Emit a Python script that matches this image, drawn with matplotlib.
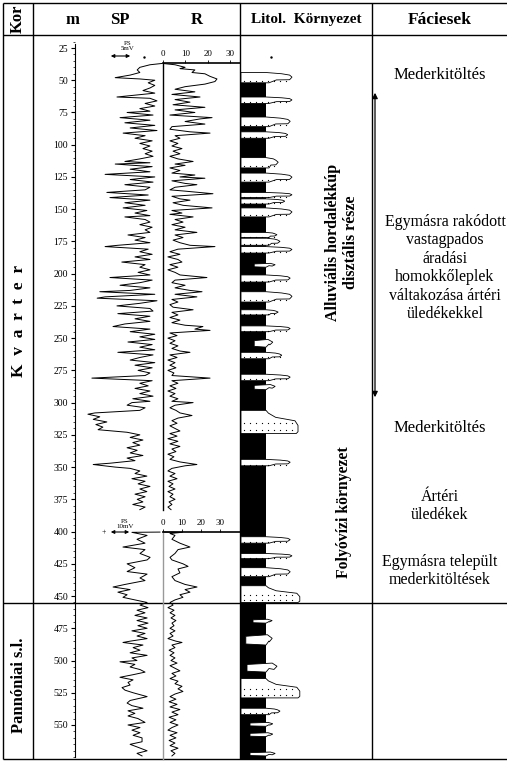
import matplotlib.pyplot as plt
import numpy as np
from matplotlib.ticker import FixedLocator

plt.rcParams['font.family'] = ['Liberation Serif', 'DejaVu Serif']

# ---- log data (depth in m) ----
# upper run, SP in mV (scale 5 mV), R in ohmm
sp_up_depth = [37, 38, 40, 42, 44, 46, 48, 49, 50, 52, 54, 56, 58, 60, 62, 63, 64, 66, 68, 70,
               72, 74, 75, 77, 79, 81, 83, 85, 87, 89, 91, 93, 95, 97, 99, 101, 103, 105, 107, 109,
               111, 113, 114, 115, 117, 119, 121, 123, 125, 127, 129, 131, 133, 135, 137, 139, 141, 143, 145, 147,
               149, 151, 153, 155, 156, 158, 160, 162, 164, 166, 168, 170, 172, 174, 176, 178, 179, 181, 183, 185,
               187, 189, 191, 193, 195, 197, 199, 201, 203, 205, 207, 209, 211, 213, 214, 216, 218, 219, 221, 223,
               225, 227, 229, 231, 233, 235, 237, 239, 241, 243, 245, 247, 249, 251, 253, 255, 257, 259, 261, 263,
               265, 267, 269, 271, 273, 275, 277, 279, 281, 283, 285, 287, 289, 291, 293, 295, 297, 299, 300, 302,
               304, 306, 308, 309, 311, 313, 315, 317, 319, 321, 323, 325, 327, 329, 331, 333, 335, 337, 339, 341,
               343, 345, 347, 348, 350, 351, 353, 355, 357, 359, 361, 363, 365, 367, 369, 371, 373, 375, 377, 379,
               381, 383]
sp_up = [1.1, -1.6, -3.9, -4.5, -3.9, -6.1, -9.5, -3.9, -0.5, -2.0, -0.5, -1.6, -3.2, -0.5, -6.1, -9.1, -1.6, 0.0, -2.7, -0.5,
         -3.9, -1.6, -6.8, -0.9, -8.4, -1.6, -7.3, -0.5, -6.1, 0.0, -7.7, -2.7, -5.0, -1.1, -3.9, -1.6, -3.2, -1.1, -2.7, -0.9,
         -3.9, -7.3, -1.6, -9.5, -1.1, -6.1, -1.6, -11.8, -0.5, -6.1, -0.9, -7.3, -1.6, -2.7, -11.4, -2.0, -10.7, -1.6, -7.3, -2.7,
         -7.7, -2.3, -5.0, -1.6, -7.3, -2.7, -1.6, -3.9, -1.1, -2.7, -1.6, -6.6, -2.7, -5.0, -1.6, -8.9, -11.8, -2.0, -3.9, -1.1,
         -5.0, -1.6, -8.0, -2.7, -3.9, -1.6, -4.3, -1.6, -10.7, -1.1, -3.9, -8.4, -1.6, -6.1, -13.0, -0.5, -11.8, -13.6, 0.0, -3.9,
         -9.1, -1.6, -0.9, -8.9, -1.6, -5.0, -1.6, -7.3, -10.0, -1.6, -6.1, -0.5, -3.9, -0.5, -6.6, -1.1, -3.9, -0.5, -8.9, -0.9,
         -3.9, -6.1, -0.5, -5.0, -1.1, -4.3, -1.6, -2.7, -14.8, -1.1, -3.9, -2.0, -5.0, -1.6, -3.9, -0.9, -5.5, -1.6, -5.7, -6.8,
         -2.7, -3.9, -14.1, -15.7, -13.0, -14.5, -11.4, -13.9, -12.3, -13.4, -6.8, -3.9, -6.1, -3.2, -5.5, -3.9, -6.8, -4.5, -6.1, -3.2,
         -6.8, -5.0, -10.7, -14.5, -9.5, -6.1, -3.9, -5.0, -2.3, -5.7, -2.7, -4.3, -1.6, -3.9, -2.3, -5.0, -2.7, -4.5, -3.2, -5.5,
         -2.7, -3.9]

r_up_depth = [37, 38, 40, 41, 42, 44, 45, 47, 49, 51, 53, 55, 57, 59, 61, 63, 65, 67, 69, 71,
              73, 75, 77, 79, 80, 82, 84, 86, 88, 90, 91, 93, 95, 97, 99, 101, 103, 105, 107, 109,
              111, 113, 115, 116, 118, 120, 122, 123.5, 125, 126, 128, 130, 131, 133, 135, 136, 138, 140, 142, 143,
              145, 147, 149, 151, 153, 154, 156, 158, 160, 162, 164, 166, 168, 170, 172, 174, 176, 178, 179, 181,
              183, 185, 187, 189, 191, 193, 195, 197, 199, 201, 203, 205, 207, 209, 211, 213, 214, 216, 218, 220,
              222, 224, 226, 228, 230, 232, 234, 236, 238, 240, 241, 243, 244, 246, 248, 250, 252, 254, 256, 258,
              260, 261, 263, 265, 267, 269, 271, 273, 275, 277, 279, 281, 283, 285, 287, 289, 291, 293, 295, 297,
              299, 300, 302, 304, 306, 308, 310, 312, 314, 316, 318, 320, 322, 324, 326, 328, 330, 332, 334, 336,
              338, 340, 342, 344, 346, 348, 349, 351, 353, 355, 357, 359, 361, 363, 365, 367, 369, 371, 373, 375,
              377, 379, 381, 383]
r_up = [0.0, 5.4, 9.9, 7.6, 14.3, 13.0, 18.8, 21.1, 24.2, 23.3, 18.8, 9.9, 5.4, 14.3, 4.0, 16.6, 5.4, 12.1, 4.5, 18.8,
        5.4, 14.3, 3.1, 22.0, 16.6, 9.9, 18.8, 4.0, 3.1, 12.1, 21.1, 5.4, 7.6, 3.1, 6.7, 4.0, 8.5, 4.5, 7.6, 3.1,
        6.7, 13.5, 5.4, 9.9, 3.1, 7.6, 4.0, 14.3, 7.6, 18.8, 4.0, 9.9, 15.2, 5.4, 3.1, 9.9, 22.4, 4.0, 7.6, 12.1,
        4.5, 9.0, 22.0, 4.0, 8.5, 3.1, 13.5, 5.4, 9.0, 4.0, 9.9, 5.4, 15.2, 5.4, 9.0, 4.5, 7.6, 12.1, 23.3, 6.7,
        3.1, 7.6, 2.2, 6.7, 8.5, 3.1, 6.7, 2.2, 5.4, 7.6, 19.7, 5.4, 4.0, 9.9, 5.4, 12.1, 17.5, 5.4, 15.2, 4.0,
        6.7, 3.1, 4.5, 13.5, 4.0, 6.7, 3.1, 7.6, 4.0, 9.9, 17.9, 14.3, 21.1, 3.1, 6.3, 2.2, 5.4, 3.1, 6.7, 4.0,
        7.6, 12.1, 3.1, 6.3, 2.2, 5.4, 3.1, 5.8, 2.2, 4.9, 4.0, 21.1, 4.0, 6.7, 3.1, 5.8, 2.2, 5.4, 3.1, 6.7,
        4.0, 13.5, 5.4, 3.1, 5.8, 7.6, 13.0, 6.7, 4.0, 6.3, 3.1, 5.4, 7.6, 3.1, 6.3, 2.2, 6.7, 3.1, 7.6, 4.0,
        5.8, 2.2, 4.9, 3.1, 7.6, 15.2, 9.9, 4.0, 2.2, 5.4, 3.1, 6.3, 2.2, 4.5, 2.7, 5.4, 2.2, 4.5, 3.1, 5.4,
        2.7, 4.0, 2.2, 3.6]

# lower run, SP in mV (scale 10 mV), R in ohmm
sp_low_depth = [400.4, 400.6, 403, 406, 409, 412, 414, 417, 420, 422, 425, 428, 431, 433, 436, 438, 441, 443, 445, 447,
                449, 451, 453, 455, 457, 459, 461, 463, 465, 467, 469, 471, 473, 475, 477, 479, 481, 483, 485, 486,
                488, 490, 492, 494, 496, 498, 500, 501, 503, 505, 507, 509, 511, 513, 515, 517, 519, 521, 523, 525,
                528, 531, 533, 535, 537, 539, 541, 543, 545, 548, 550, 552, 554, 556, 558, 560, 563, 565, 567, 570,
                572, 574]
sp_low = [1.3, -10.9, -4.3, -8.7, -5.2, -14.8, -5.2, -7.4, -3.0, -4.3, -13.0, -9.6, -13.0, -4.3, -7.4, -5.2, -13.9, -19.1, -11.7, -17.0,
          -13.0, -14.8, -9.6, -4.3, -7.4, -3.9, -8.7, -5.2, -9.6, -4.3, -8.7, -3.9, -8.3, -4.3, -10.9, -5.2, -8.7, -4.3, -11.7, -14.8,
          -6.1, -10.4, -7.4, -11.7, -4.3, -10.9, -8.7, -16.1, -9.6, -11.7, -7.4, -5.2, -10.4, -16.1, -10.4, -12.6, -11.7, -15.2, -13.9, -10.4,
          -4.3, -11.7, -13.0, -10.9, -6.1, -12.6, -9.6, -12.6, -8.3, -5.2, -12.6, -7.4, -10.9, -7.4, -10.4, -6.5, -6.5, -11.7, -8.7, -4.3,
          -8.7, -6.5]

r_low_depth = [400.4, 400.6, 401.5, 403, 406, 409, 412, 414, 417, 420, 422, 425, 427, 429, 432, 435, 438, 441, 443, 445,
               447, 449, 451, 453, 455, 457, 459, 461, 463, 465, 467, 469, 471, 473, 475, 477, 479, 481, 483, 485,
               486, 488, 490, 492, 494, 496, 498, 500, 502, 504, 506, 508, 510, 512, 514, 516, 518, 520, 522, 524,
               526, 528, 530, 532, 534, 536, 538, 540, 542, 544, 546, 548, 550, 552, 554, 556, 558, 560, 562, 564,
               566, 568, 570, 572, 574]
r_low = [0.0, 10.0, 3.7, 6.3, 4.7, 8.9, 14.2, 7.9, 6.3, 3.7, 4.7, 10.5, 13.2, 7.9, 8.9, 4.7, 6.3, 11.6, 17.9, 11.6,
         14.2, 8.9, 10.5, 6.3, 3.7, 5.3, 2.6, 5.8, 3.7, 6.3, 4.2, 6.8, 4.7, 5.8, 3.7, 6.3, 3.7, 5.3, 2.6, 6.8,
         10.0, 4.7, 6.3, 3.2, 5.8, 3.7, 6.3, 4.2, 7.4, 3.7, 6.3, 8.9, 4.7, 6.8, 3.7, 7.9, 6.3, 10.0, 7.9, 10.5,
         6.3, 3.7, 6.8, 3.2, 7.4, 3.7, 8.9, 4.7, 7.9, 3.2, 6.8, 3.7, 7.9, 4.7, 2.6, 7.4, 3.7, 6.8, 3.2, 6.3,
         3.7, 7.9, 4.2, 6.3, 4.7]

# sand bodies in the lithology column: top, base (m), relative reach, relative start
sand_top = [44, 63, 78.5, 90, 110, 122, 137, 142, 149, 168, 172.5, 179, 192, 201, 214, 228, 240.5, 251, 261, 278,
            286, 306, 344, 404, 417, 428, 442, 468, 480, 502, 514, 537, 548, 556, 571]
sand_base = [52, 68, 86, 95, 118, 129, 141, 146, 156, 172, 178, 184, 195, 206.5, 222, 232, 245, 257, 266, 283,
             290, 324, 349, 409, 421, 435, 455, 471, 488, 509, 529, 542, 551, 559, 574]
sand_reach = [0.85, 0.85, 0.82, 0.78, 0.62, 0.85, 0.85, 0.73, 0.85, 0.60, 0.65, 0.85, 0.57, 0.82, 0.85, 0.62, 0.82, 0.53, 0.68, 0.82,
              0.57, 0.95, 0.82, 0.82, 0.85, 0.82, 0.98, 0.52, 0.52, 0.60, 0.98, 0.65, 0.53, 0.53, 0.57]
sand_start = [0, 0, 0, 0, 0, 0, 0, 0, 0, 0, 0, 0, 0.22, 0, 0, 0, 0, 0.22, 0, 0,
              0.22, 0, 0, 0, 0, 0, 0, 0.2, 0.08, 0.1, 0, 0, 0.15, 0.15, 0.15]

depth_ticks = list(range(25, 551, 25))

# ---- layout (pixels) ----
W, H = 507, 761
TOP_Y, PX_PER_M = 48, 1.2895   # pixel row of 25 m, pixels per metre


def depth_at(y):
    return 25 + (y - TOP_Y) / PX_PER_M


fig = plt.figure(figsize=(W / 100, H / 100), dpi=100)

bg = fig.add_axes([0, 0, 1, 1])
bg.set_xlim(0, W)
bg.set_ylim(H, 0)
bg.axis('off')


def box(x0, x1, y0, y1):
    a = fig.add_axes([x0 / W, 1 - y1 / H, (x1 - x0) / W, (y1 - y0) / H])
    a.set_ylim(depth_at(y1), depth_at(y0))
    a.patch.set_alpha(0)
    return a


# table frame
lk = dict(color='k', lw=1.0, solid_capstyle='butt')
bg.plot([3, 507], [3, 3], **lk)
bg.plot([3, 507], [35, 35], **lk)
bg.plot([3, 507], [603, 603], **lk)
bg.plot([3, 507], [759, 759], **lk)
for xv in [3, 33, 240, 372]:
    bg.plot([xv, xv], [3, 759], **lk)

# headers
hk = dict(fontweight='bold', ha='center', va='center')
bg.text(18, 19, 'Kor', rotation=90, fontsize=12, **hk)
bg.text(72, 20, 'm', fontsize=12, **hk)
bg.text(120, 20, 'SP', fontsize=12, **hk)
bg.text(197, 20, 'R', fontsize=12, **hk)
bg.text(306, 20, 'Litol.  Környezet', fontsize=11, **hk)
bg.text(440, 20, 'Fáciesek', fontsize=12.5, **hk)

bg.text(19, 321, 'K  v  a  r  t  e  r', rotation=90, fontsize=12.5, **hk)
bg.text(19, 685, 'Pannóniai s.l.', rotation=90, fontsize=12, **hk)

# depth scale
ad = box(75, 76, 35, 759)
for s in ['top', 'right', 'bottom']:
    ad.spines[s].set_visible(False)
ad.spines['left'].set_bounds(depth_at(44), depth_at(757))
ad.set_xticks([])
ad.set_yticks(depth_ticks)
ad.set_yticklabels([str(t) for t in depth_ticks])
ad.yaxis.set_minor_locator(FixedLocator(list(range(20, 576, 5))))
ad.tick_params(axis='y', which='major', length=3, width=0.8, labelsize=7, pad=2)
ad.tick_params(axis='y', which='minor', length=1.5, width=0.5)

# upper run
asp = box(80, 162, 63, 510)
asp.set_xlim(-77 / 4.4, 5 / 4.4)
asp.axis('off')
asp.plot(sp_up, sp_up_depth, color='k', lw=0.7, clip_on=False)

ar = box(163, 240, 63, 510)
ar.set_xlim(0, 77 / 2.23)
ar.plot(r_up, r_up_depth, color='k', lw=0.7, clip_on=False)

# lower run
asp2 = box(80, 162, 532, 759)
asp2.set_xlim(-77 / 2.3, 5 / 2.3)
asp2.axis('off')
asp2.plot(sp_low, sp_low_depth, color='k', lw=0.7, clip_on=False)

ar2 = box(163, 240, 532, 759)
ar2.set_xlim(0, 77 / 1.9)
ar2.plot(r_low, r_low_depth, color='k', lw=0.7, clip_on=False)

for a, lc in [(ar, 'k'), (ar2, '0.6')]:
    a.spines['right'].set_visible(False)
    a.spines['bottom'].set_visible(False)
    a.spines['left'].set_color(lc)
    a.spines['left'].set_linewidth(1.0)
    a.spines['top'].set_linewidth(1.2)
    a.xaxis.tick_top()
    a.set_xticks([0, 10, 20, 30])
    a.set_yticks([])
    a.tick_params(axis='x', length=2, width=0.6, labelsize=6.5, pad=1.5)

# SP scale arrows
bg.text(128, 46, 'PS\n5mV', fontsize=5, ha='center', va='center', linespacing=0.9)
bg.annotate('', xy=(108, 56), xytext=(133, 56),
            arrowprops=dict(arrowstyle='<|-|>', lw=0.8, mutation_scale=5, color='k'))
bg.plot(144, 57, 'k.', ms=1.5)
bg.text(125, 524, 'PS\n10mV', fontsize=5, ha='center', va='center', linespacing=0.9)
bg.annotate('', xy=(108, 532), xytext=(132, 532),
            arrowprops=dict(arrowstyle='<|-|>', lw=0.8, mutation_scale=5, color='k'))
bg.text(104, 532, '+', fontsize=5.5, ha='center', va='center')

# lithology column
al = box(241, 301, 35, 759)
al.set_xlim(0, 1)
al.axis('off')
col = 25 / 60
al.fill_betweenx([44, depth_at(759)], 0, col, color='k', lw=0)
al.plot(0.5, depth_at(57), 'k.', ms=1.5)

for t, b, e, s0 in zip(sand_top, sand_base, sand_reach, sand_start):
    h = b - t
    if s0 > 0:
        # small tongue that starts inside the shale column
        pts = [(s0, t + 0.15 * h), (e - 0.08, t), (e, t + 0.35 * h), (e - 0.05, t + 0.7 * h),
               (col + 0.05, t + 0.6 * h), (col, b), (s0, b - 0.1 * h)]
    elif h >= 10:
        pts = [(s0, t), (col, t), (col + 0.04, t + 0.12 * h), (col + 0.3 * (e - col), t + 0.3 * h),
               (e - 0.05, t + 0.45 * h), (e, t + 0.65 * h), (e, b - 0.08 * h), (e - 0.03, b), (s0, b)]
    else:
        pts = [(s0, t), (col, t), (col + 0.6 * (e - col), t + 0.12 * h), (e - 0.04, t + 0.25 * h),
               (e, t + 0.45 * h), (e - 0.04, t + 0.7 * h), (col + 0.4 * (e - col), t + 0.72 * h),
               (col + 0.05, b), (s0, b)]
    al.add_patch(plt.Polygon(pts, closed=True, fc='w', ec='k', lw=0.6))
    # dotted sand fill
    if s0 > 0:
        continue
    xs = np.arange(s0 + 0.05, min(e, col + 0.35) if h < 10 else e - 0.04, 0.1)
    rows = [b - 0.2 * h] if h < 10 else [t + 0.55 * h, b - 0.15 * h]
    for ry in rows:
        al.scatter(xs, np.full(len(xs), ry), s=0.8, c='k', lw=0)

# environment labels
ek = dict(rotation=90, fontweight='bold', ha='center', va='center')
bg.text(342, 242, 'Alluviális hordalékkúp\ndisztális része', fontsize=11.5, linespacing=1.2, **ek)
bg.text(344, 512, 'Folyóvízi környezet', fontsize=11.3, **ek)

# facies
fk = dict(fontsize=11.5, ha='center', va='center', linespacing=1.2)
bg.text(440, 75, 'Mederkitöltés', fontsize=12, ha='center', va='center')
bg.text(445, 268, 'Egymásra rakódott\nvastagpados\náradási\nhomokkőleplek\nváltakozása ártéri\nüledékekkel', **fk)
bg.text(440, 428, 'Mederkitöltés', fontsize=12, ha='center', va='center')
bg.text(440, 506, 'Ártéri\nüledékek', **fk)
bg.text(440, 571, 'Egymásra települt\nmederkitöltések', **fk)
bg.annotate('', xy=(375, 90), xytext=(375, 400),
            arrowprops=dict(arrowstyle='<|-|>', lw=0.9, mutation_scale=8, color='k'))

fig.savefig('out.png', dpi=100)
